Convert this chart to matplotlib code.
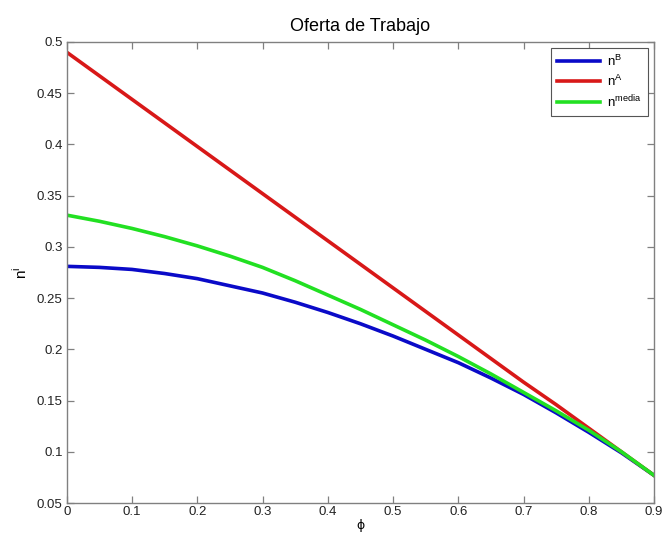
import numpy as np
import matplotlib as mpl
mpl.use("Agg")
import matplotlib.pyplot as plt

plt.rcParams['font.family'] = ['Liberation Sans', 'DejaVu Sans']
plt.rcParams['mathtext.fontset'] = 'custom'
plt.rcParams['mathtext.rm'] = 'Liberation Sans'

phi = [0.0, 0.05, 0.1, 0.15, 0.2, 0.25, 0.3, 0.35, 0.4, 0.45,
       0.5, 0.55, 0.6, 0.65, 0.7, 0.75, 0.8, 0.85, 0.9]
n_B = [0.281, 0.280, 0.278, 0.274, 0.269, 0.262, 0.255, 0.246, 0.236, 0.225,
       0.213, 0.200, 0.187, 0.172, 0.156, 0.138, 0.119, 0.099, 0.077]
n_A = [0.490, 0.467, 0.444, 0.421, 0.398, 0.375, 0.352, 0.329, 0.306, 0.283,
       0.260, 0.237, 0.214, 0.191, 0.168, 0.146, 0.123, 0.100, 0.077]
n_media = [0.331, 0.325, 0.318, 0.310, 0.301, 0.291, 0.280, 0.267, 0.253, 0.239,
           0.224, 0.209, 0.193, 0.176, 0.158, 0.140, 0.121, 0.100, 0.077]

fig = plt.figure(figsize=(6.62, 5.38), dpi=100)
ax = fig.add_axes([0.1008, 0.065, 0.8872, 0.857])

ax.plot(phi, n_B, color='#0a0ac8', lw=2.6, label=r'n$^\mathregular{B}$')
ax.plot(phi, n_A, color='#d81818', lw=2.6, label=r'n$^\mathregular{A}$')
ax.plot(phi, n_media, color='#22e022', lw=2.6, label=r'n$^\mathregular{media}$')

ax.set_xlim(0, 0.9)
ax.set_ylim(0.05, 0.5)
ax.set_xticks(np.arange(0, 0.91, 0.1))
ax.set_yticks(np.arange(0.05, 0.501, 0.05))
ax.set_xticklabels(['0', '0.1', '0.2', '0.3', '0.4', '0.5', '0.6', '0.7', '0.8', '0.9'])
ax.set_yticklabels(['0.05', '0.1', '0.15', '0.2', '0.25', '0.3', '0.35', '0.4', '0.45', '0.5'])

for s in ax.spines.values():
    s.set_color('#808080')
    s.set_linewidth(1.0)
ax.tick_params(direction='in', top=True, right=True, length=5, width=0.9,
               color='#808080', labelsize=9.5, labelcolor='#222222')
ax.tick_params(axis='x', pad=2)
ax.tick_params(axis='y', pad=3)

ax.set_title('Oferta de Trabajo', fontsize=13, pad=8)
ax.set_xlabel('\u03d5', fontsize=9, labelpad=1, family=['DejaVu Sans'])
ax.set_ylabel(r'n$^\mathregular{i}$', fontsize=11, labelpad=5)

leg = ax.legend(loc='upper right', fancybox=False, framealpha=1, edgecolor='#555555',
                handlelength=3.2, fontsize=9.5, borderaxespad=0.45, labelspacing=0.35,
                handletextpad=0.6, borderpad=0.45)
leg.get_frame().set_linewidth(0.8)

fig.savefig('out.png', dpi=100)
